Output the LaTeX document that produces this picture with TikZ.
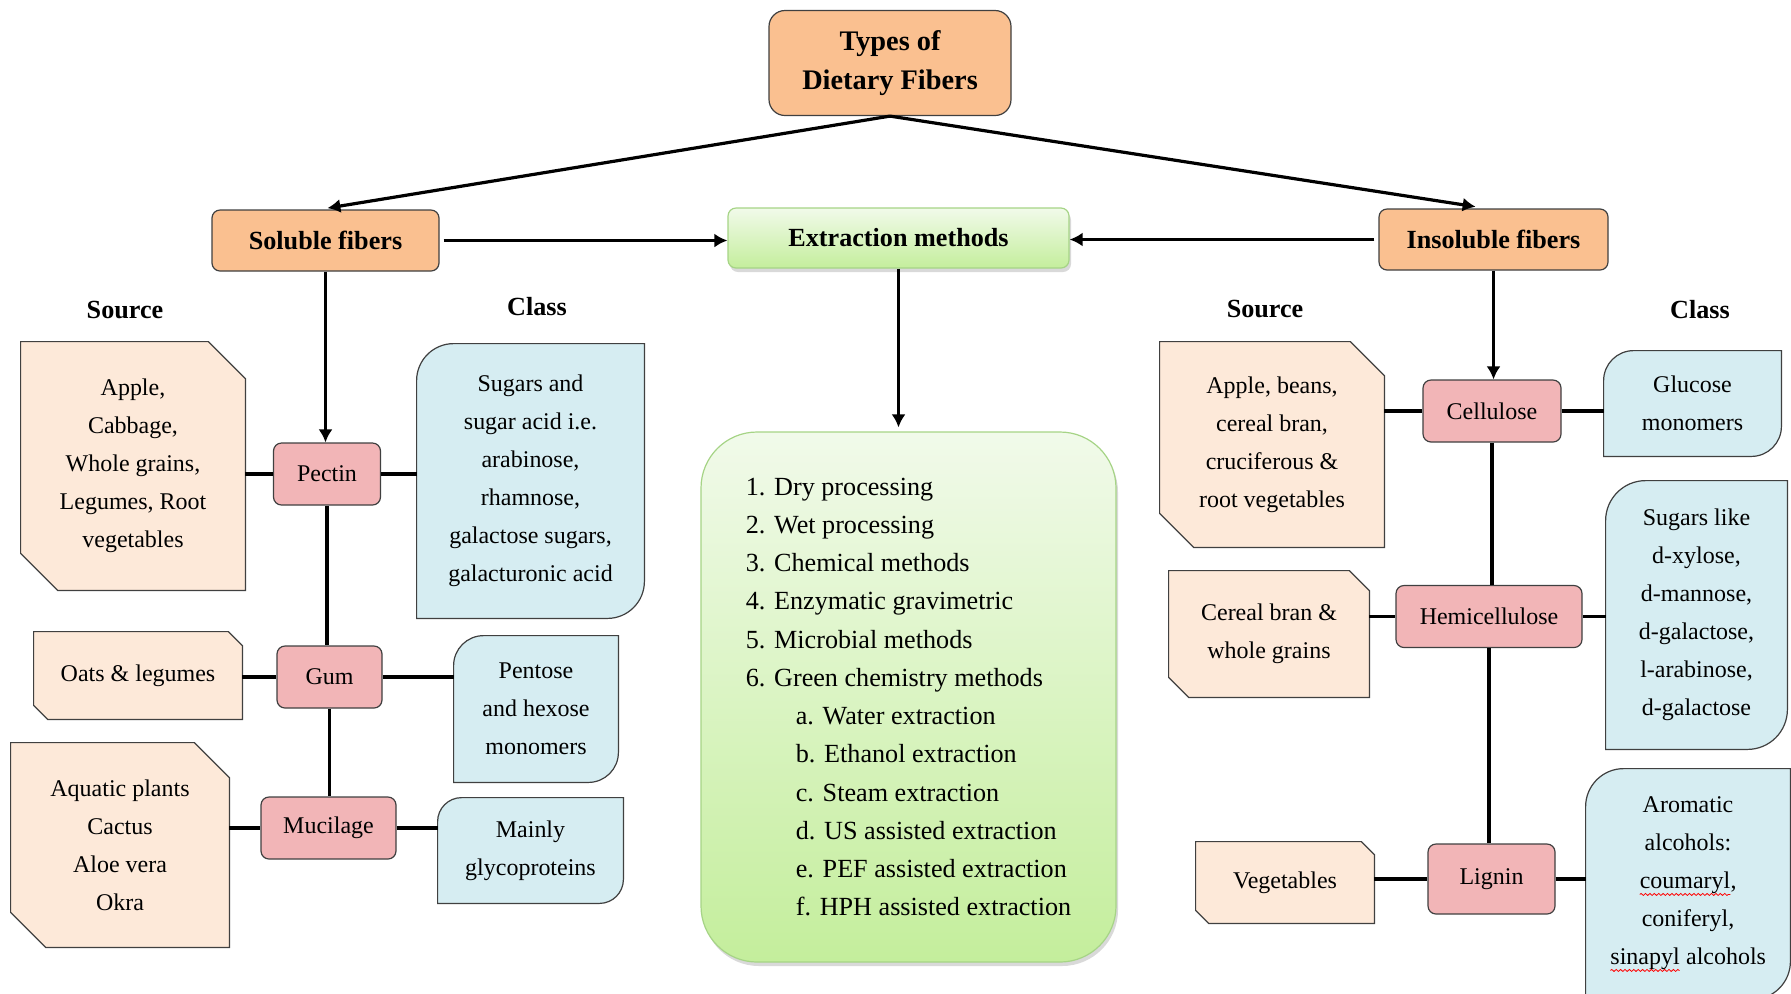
\documentclass[tikz,border=0pt]{standalone}
\usepackage{fontspec}
\setmainfont{Liberation Serif}[Scale=1.09]
\usepackage{tikz}
\usetikzlibrary{arrows.meta,positioning,backgrounds,shadows,decorations.pathmorphing}

\definecolor{fiberorange}{HTML}{FAC090}
\definecolor{kindpink}{HTML}{F2B5B7}
\definecolor{srcpeach}{HTML}{FDE9D9}
\definecolor{clsblue}{HTML}{D6EDF2}
\definecolor{greentop}{HTML}{F1FAEA}
\definecolor{greenbot}{HTML}{C4EE9C}
\definecolor{greenline}{HTML}{A6D486}
\definecolor{boxline}{HTML}{404040}

% snipped corners (source boxes)
\newcommand{\snipshape}[2]{%
  \draw [srcshape] (#1.north west) -- ([xshift=-#2]#1.north east) -- ([yshift=-#2]#1.north east)
  -- (#1.south east) -- ([xshift=#2]#1.south west) -- ([yshift=#2]#1.south west) -- cycle;}
% rounded diagonal corners (class boxes)
\newcommand{\diagshape}[2]{%
  \draw [clsshape] (#1.north east) -- ([yshift=#2]#1.south east)
  arc [start angle=0, end angle=-90, radius=#2] -- (#1.south west)
  -- ([yshift=-#2]#1.north west) arc [start angle=180, end angle=90, radius=#2] -- cycle;}
% red spell-check underline
\newcommand{\spellmark}[1]{%
  \tikz[baseline=(sp.base)]{\node [inner sep=0pt, outer sep=0pt, minimum width=0pt, minimum height=0pt, draw=none, fill=none] (sp) {#1};
  \draw [red, line width=0.4pt, decorate, decoration={snake, amplitude=0.5pt, segment length=2.2pt}] ([yshift=-0.6pt]sp.south west) -- ([yshift=-0.6pt]sp.south east);}}

\begin{document}
\begin{tikzpicture}[
    x=0.5pt, y=0.5pt,
    >={Latex[length=6.5pt,width=7pt]},
    font=\fontsize{11}{19}\selectfont,
    node distance=100pt,
    main/.style={
		rectangle,
		rounded corners=4pt,
		draw=boxline,
		line width=0.6pt,
		fill=fiberorange,
		align=center,
		font=\fontsize{12}{19}\selectfont\bfseries,
		minimum height=30.5pt
	},
	method/.style={
		rectangle,
		rounded corners=4pt,
		draw=greenline,
		line width=0.6pt,
		top color=greentop,
		bottom color=greenbot,
		drop shadow={opacity=0.3, shadow xshift=1pt, shadow yshift=-2pt},
		font=\fontsize{12}{19}\selectfont\bfseries
	},
	kind/.style={
		rectangle,
		rounded corners=4pt,
		draw=boxline,
		line width=0.6pt,
		fill=kindpink,
		align=center,
		minimum height=31pt
	},
	source/.style={
		rectangle,
		align=center,
		inner sep=0pt
	},
	class/.style={
		rectangle,
		align=center,
		inner sep=0pt
	},
	srcshape/.style={fill=srcpeach, draw=boxline, line width=0.6pt},
	clsshape/.style={fill=clsblue, draw=boxline, line width=0.6pt},
	heading/.style={font=\fontsize{12}{19}\selectfont\bfseries},
	link/.style={line width=1.6pt},
	flow/.style={line width=1.6pt, ->}
  ]

 \useasboundingbox (0,0) rectangle (1791,-993);

% // top row
 \node [main, rounded corners=8pt, minimum width=121pt, minimum height=52.5pt, font=\fontsize{13}{19.5}\selectfont\bfseries] (types) at (890,-63) {Types of\\Dietary Fibers};
 \node [main, minimum width=113.5pt] (soluble) at (325.5,-240.5) {Soluble fibers};
 \node [method, minimum width=170.5pt, minimum height=30pt] (extraction) at (898.5,-238) {Extraction methods};
 \node [main, minimum width=114.5pt] (insoluble) at (1493.5,-239.5) {Insoluble fibers};

% // the methods
 \node [method, rounded corners=28pt, minimum width=207.5pt, minimum height=265pt, align=left, font=\fontsize{12}{19.1}\selectfont] (methods) at (908.5,-697)
 {%
  1. Dry processing\\
  2. Wet processing\\
  3. Chemical methods\\
  4. Enzymatic gravimetric\\
  5. Microbial methods\\
  6. Green chemistry methods\\
  \hspace*{25pt}a. Water extraction\\
  \hspace*{25pt}b. Ethanol extraction\\
  \hspace*{25pt}c. Steam extraction\\
  \hspace*{25pt}d. US assisted extraction\\
  \hspace*{25pt}e. PEF assisted extraction\\
  \hspace*{25pt}f. HPH assisted extraction
 };

 \node [heading] (srcleft) at (125,-310) {Source};
 \node [heading] (clsleft) at (537,-307) {Class};
 \node [heading] (srcright) at (1265,-309) {Source};
 \node [heading] (clsright) at (1700,-310) {Class};

% // soluble side
 \node [kind, below of=soluble, node distance=116.75pt, xshift=0.75pt, minimum width=53.5pt] (pectin) {Pectin};
 \node [kind, below of=pectin, node distance=101.5pt, xshift=1.25pt, minimum width=52.5pt] (gum) {Gum};
 \node [kind, below of=gum, node distance=75.5pt, xshift=-0.5pt, minimum width=67.5pt] (mucilage) {Mucilage};

 \node [source, minimum width=112pt, minimum height=124pt] (applesrc) at (133,-466) {Apple,\\Cabbage,\\Whole grains,\\Legumes, Root\\vegetables};
 \node [source, minimum width=104pt, minimum height=43.5pt] (oats) at (138,-675.5) {Oats \& legumes};
 \node [source, minimum width=109pt, minimum height=102pt] (aquatic) at (120,-845) {Aquatic plants\\Cactus\\Aloe vera\\Okra};

 \node [class, minimum width=113.5pt, minimum height=137pt] (pectincls) at (530.5,-481) {Sugars and\\sugar acid i.e.\\arabinose,\\rhamnose,\\galactose sugars,\\galacturonic acid};
 \node [class, minimum width=82pt, minimum height=73pt] (pentose) at (536,-709) {Pentose\\and hexose\\monomers};
 \node [class, minimum width=92.5pt, minimum height=52.5pt] (mainly) at (530.5,-850.5) {Mainly\\glycoproteins};

% // insoluble side
 \node [kind, below of=insoluble, node distance=85.75pt, xshift=-0.75pt, minimum width=69pt] (cellulose) {Cellulose};
 \node [kind, below of=cellulose, node distance=102.75pt, xshift=-1.5pt, minimum width=93pt] (hemi) {Hemicellulose};
 \node [kind, below of=hemi, node distance=131.25pt, xshift=1.25pt, minimum width=63.5pt, minimum height=35pt] (lignin) {Lignin};

 \node [source, minimum width=112pt, minimum height=102.5pt] (applebeans) at (1272,-444.5) {Apple, beans,\\cereal bran,\\cruciferous \&\\root vegetables};
 \node [source, minimum width=100pt, minimum height=63pt] (cereal) at (1269,-634) {Cereal bran \&\\whole grains};
 \node [source, minimum width=89pt, minimum height=40.5pt] (vegetables) at (1285,-882.5) {Vegetables};

 \node [class, minimum width=88.5pt, minimum height=52.5pt] (glucose) at (1692.5,-403.5) {Glucose\\monomers};
 \node [class, minimum width=90.5pt, minimum height=134pt] (sugarslike) at (1696.5,-615) {Sugars like\\d-xylose,\\d-mannose,\\d-galactose,\\l-arabinose,\\d-galactose};
 \node [class, minimum width=102pt, minimum height=115pt] (aromatic) at (1688,-884) {Aromatic\\alcohols:\\\spellmark{coumaryl},\\coniferyl,\\\spellmark{sinapyl} alcohols};

% // box outlines
 \begin{scope}[on background layer]
  \snipshape{applesrc}{18.5pt}
  \snipshape{oats}{7pt}
  \snipshape{aquatic}{17.5pt}
  \snipshape{applebeans}{17pt}
  \snipshape{cereal}{10pt}
  \snipshape{vegetables}{6.5pt}
  \diagshape{pectincls}{18.5pt}
  \diagshape{pentose}{15pt}
  \diagshape{mainly}{12pt}
  \diagshape{glucose}{15pt}
  \diagshape{sugarslike}{20pt}
  \diagshape{aromatic}{19pt}
 \end{scope}

% // arrows
 \draw [flow, shorten >=4pt] (types.south) -- ([xshift=-3pt]soluble.north);
 \draw [flow, shorten >=5.5pt] (types.south) -- ([xshift=-3.5pt]insoluble.north);
 \draw [flow, shorten <=2pt] (soluble.east) -- (soluble.east -| extraction.west);
 \draw [flow, shorten <=2pt] (insoluble.west) -- (insoluble.west -| extraction.east);
 \draw [flow, shorten >=2pt] (extraction.south) -- (extraction.south |- methods.north);
 \draw [flow] (soluble.south) -- (soluble.south |- pectin.north);
 \draw [flow] (insoluble.south) -- (insoluble.south |- cellulose.north);

% // links
 \draw [link] (pectin.south) -- (pectin.south |- gum.north);
 \draw [link] (gum.south) -- (gum.south |- mucilage.north);
 \draw [link] (cellulose.south) -- (cellulose.south |- hemi.north);
 \draw [link] (hemi.south) -- (hemi.south |- lignin.north);

 \draw [link] (applesrc.east |- pectin.west) -- (pectin.west);
 \draw [link] (pectin.east) -- (pectin.east -| pectincls.west);
 \draw [link] (oats.east |- gum.west) -- (gum.west);
 \draw [link] (gum.east) -- (gum.east -| pentose.west);
 \draw [link] (aquatic.east |- mucilage.west) -- (mucilage.west);
 \draw [link] (mucilage.east) -- (mucilage.east -| mainly.west);

 \draw [link] (applebeans.east |- cellulose.west) -- (cellulose.west);
 \draw [link] (cellulose.east) -- (cellulose.east -| glucose.west);
 \draw [link] (cereal.east |- hemi.west) -- (hemi.west);
 \draw [link] (hemi.east) -- (hemi.east -| sugarslike.west);
 \draw [link] (vegetables.east |- lignin.west) -- (lignin.west);
 \draw [link] (lignin.east) -- (lignin.east -| aromatic.west);

\end{tikzpicture}
\end{document}
